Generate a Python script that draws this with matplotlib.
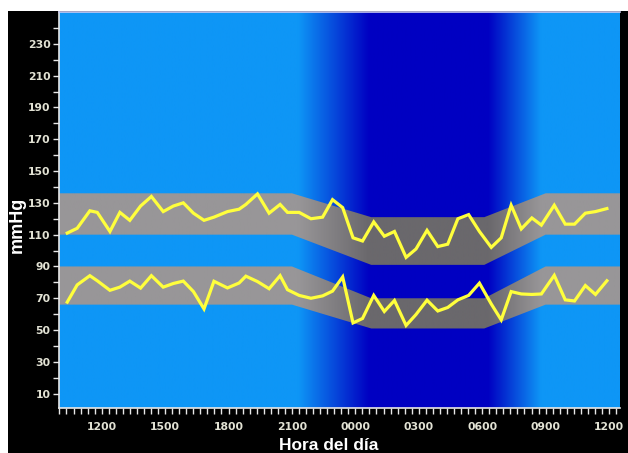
import numpy as np
import matplotlib
matplotlib.use("Agg")
import matplotlib.pyplot as plt
from matplotlib.patches import Rectangle

# ---------------- data ----------------
hours = [10.37, 10.84, 11.44, 11.79, 12.39, 12.86, 13.33, 13.84, 14.35, 14.91,
         15.39, 15.86, 16.34, 16.84, 17.31, 17.95, 18.50, 18.82, 19.37, 19.92,
         20.44, 20.79, 21.34, 21.90, 22.45, 22.92, 23.40, 23.89, 24.34, 24.87,
         25.37, 25.85, 26.40, 26.87, 27.39, 27.90, 28.37, 28.85, 29.36, 29.87,
         30.43, 30.90, 31.37, 31.85, 32.35, 32.80, 33.41, 33.93, 34.37, 34.88,
         35.36, 35.90]
systolic = [111, 114, 125, 124, 112, 124, 119, 128, 134, 124.5,
            128, 130, 123.5, 119, 121, 124.5, 126, 129, 135.6, 123.5,
            129, 124, 124, 120, 121, 132, 127, 108, 106, 118,
            109, 112, 95.7, 101, 112.7, 102.5, 104, 120, 122.6, 112,
            102, 108, 128.5, 113.6, 120.5, 116, 128.5, 116.6, 116.6, 123.5,
            124.5, 126.4]
diastolic = [67.6, 78.4, 84.2, 81, 75, 77, 80.8, 76.4, 84.2, 77,
             79.3, 80.8, 74.2, 63.3, 80.7, 76.5, 79.6, 83.9, 80.5, 76,
             84.2, 75.4, 71.8, 70, 71.5, 74.5, 83.4, 54.5, 57.3, 71.8,
             61.7, 68.6, 52.9, 59.8, 68.8, 62, 64.2, 69, 71.8, 79.5,
             66.4, 56.4, 74.2, 72.7, 72.4, 72.7, 84.4, 69, 68.3, 78,
             72.4, 81]

band_hours = [9.9, 21.0, 24.75, 30.1, 33.0, 36.7]
sys_band_hi = [136, 136, 121, 121, 136, 136]
sys_band_lo = [110, 110, 91, 91, 110, 110]
dia_band_hi = [90, 90, 70, 70, 90, 90]
dia_band_lo = [66, 66, 51, 51, 66, 66]

# night shading (fraction of night colour) at these hours
night_hours = [9.9, 21.3, 24.65, 30.3, 32.8, 36.7]
night_frac = [0, 0, 1, 1, 0, 0]

xtick_pos = [12, 15, 18, 21, 24, 27, 30, 33, 36]
xtick_labels = ["1200", "1500", "1800", "2100", "0000", "0300", "0600", "0900", "1200"]
ytick_pos = list(range(10, 231, 20))
ytick_labels = [str(v) for v in ytick_pos]

# ---------------- figure ----------------
W, H = 628, 453
fig = plt.figure(figsize=(W / 100, H / 100), dpi=100, facecolor="white")
fig.add_artist(Rectangle((8 / W, 0), 1 - 8 / W, 1 - 11 / H, transform=fig.transFigure,
                         facecolor="black", edgecolor="none", zorder=-10))

ax_l, ax_r, ax_t, ax_b = 59, 620, 12, 408
ax = fig.add_axes([ax_l / W, 1 - ax_b / H, (ax_r - ax_l) / W, (ax_b - ax_t) / H])
x0, x1 = 9.98, 36.52
y0, y1 = 1, 250
ax.set_xlim(x0, x1)
ax.set_ylim(y0, y1)

# background gradient
xs = np.linspace(x0, x1, 800)
f = np.interp(xs, night_hours, night_frac)[None, :, None]
light = np.array([14, 150, 246]) / 255
dark = np.array([0, 0, 194]) / 255
bg = (1 - f) * light + f * dark
ax.imshow(bg, extent=[x0, x1, y0, y1], aspect="auto", origin="lower", zorder=0,
          interpolation="bilinear")

# bands (gray, darker over the night)
gray_day = np.array([152, 150, 152]) / 255
gray_night = np.array([106, 104, 108]) / 255
band_img = (1 - f) * gray_day + f * gray_night
for hi, lo in [(sys_band_hi, sys_band_lo), (dia_band_hi, dia_band_lo)]:
    poly = ax.fill_between(band_hours, lo, hi, facecolor="none", edgecolor="none")
    im = ax.imshow(band_img, extent=[x0, x1, y0, y1], aspect="auto", origin="lower",
                   zorder=1, interpolation="bilinear")
    im.set_clip_path(poly.get_paths()[0], transform=ax.transData)

ax.set_xlim(x0, x1)
ax.set_ylim(y0, y1)

# lines
ax.plot(hours, systolic, color="#ffff3c", lw=2.3, zorder=3, solid_joinstyle="miter")
ax.plot(hours, diastolic, color="#ffff3c", lw=2.3, zorder=3, solid_joinstyle="miter")

# axes styling
for s in ["left", "bottom"]:
    ax.spines[s].set_color("#e8e8e8")
    ax.spines[s].set_linewidth(1.2)
ax.spines["top"].set_color("#c8c8f0")
ax.spines["top"].set_linewidth(1.2)
ax.spines["right"].set_visible(False)

tick_font = dict(family="DejaVu Sans", weight="bold", size=7.8)
ax.set_xticks(xtick_pos)
ax.set_xticklabels(xtick_labels, color="#e2e2d4", **tick_font)
ax.set_xticks(np.arange(10, 36.6, 1 / 3), minor=True)
ax.set_yticks(ytick_pos)
ax.set_yticklabels(ytick_labels, color="#e2e2d4", **tick_font)
ax.set_yticks(range(10, 250, 10), minor=True)
ax.tick_params(axis="both", which="both", direction="out", color="#e8e8e8",
               length=4, width=1)
ax.tick_params(axis="x", which="major", pad=6)
ax.tick_params(axis="y", which="major", pad=2)

fig.text(17 / W, 1 - 225 / H, "mmHg", rotation=90, color="white", ha="center",
         va="center", family="Liberation Sans", weight="bold", size=13)
fig.text(329 / W, 1 - 445 / H, "Hora del día", color="white", ha="center",
         va="center", family="Liberation Sans", weight="bold", size=12.5)

fig.savefig("out.png", dpi=100, facecolor=fig.get_facecolor())
